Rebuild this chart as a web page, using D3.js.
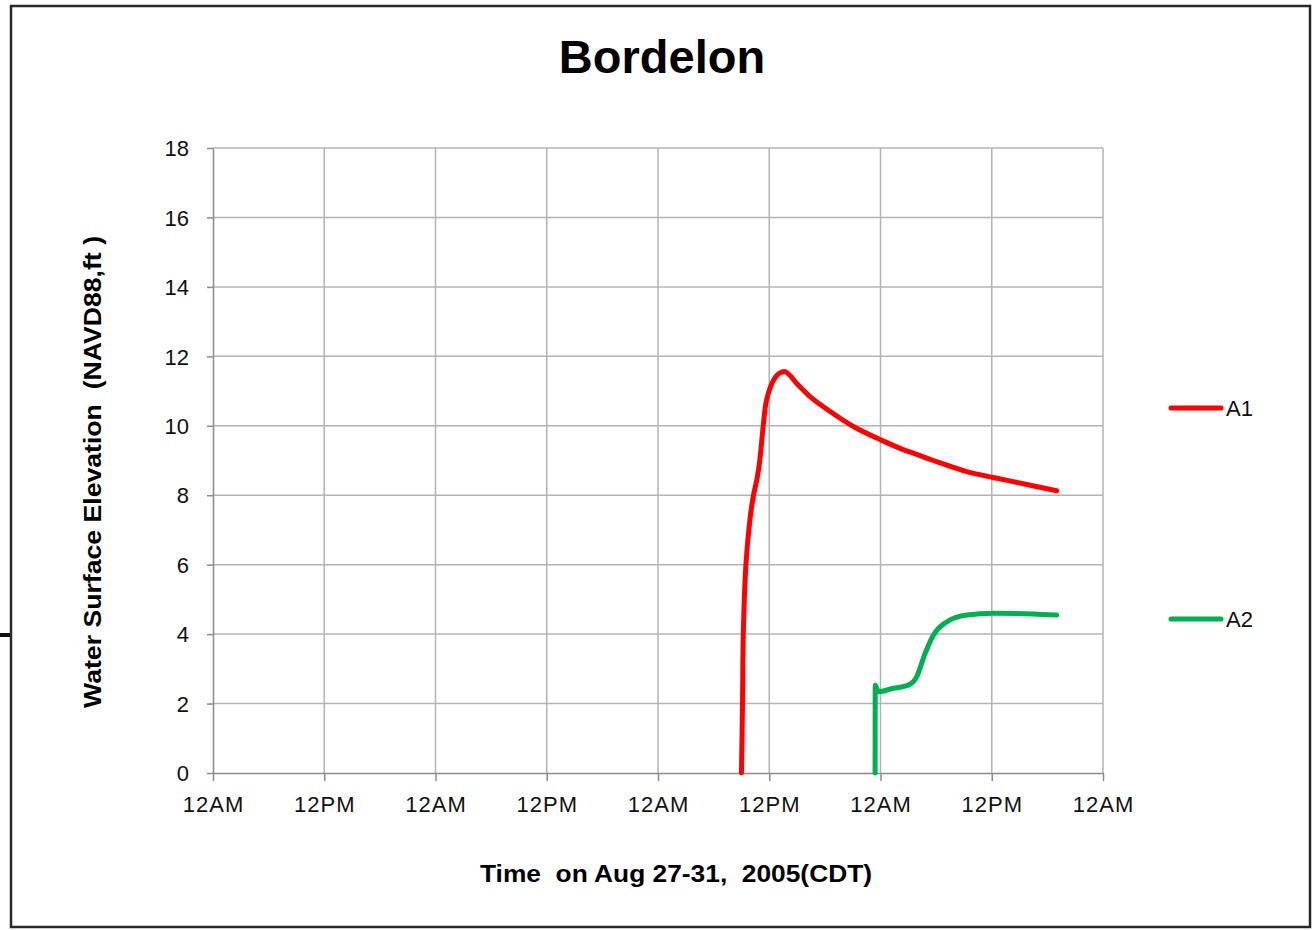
<!DOCTYPE html>
<html>
<head>
<meta charset="utf-8">
<script src="https://cdn.jsdelivr.net/npm/d3@7"></script>
<style>
  html, body { margin: 0; padding: 0; background: #fff; }
  svg { display: block; }
  text { font-family: "Liberation Sans", Arial, sans-serif; }
</style>
</head>
<body>
<svg id="chart" width="1315" height="930"></svg>
<script>
// ---- data ----
const chartTitle = "Bordelon";
const xAxisTitle = "Time  on Aug 27-31,  2005(CDT)";
const yAxisTitle = "Water Surface Elevation  (NAVD88,ft )";
const xDomain = ["2005-08-27 00:00", "2005-08-31 00:00"];
const yTicks = [0, 2, 4, 6, 8, 10, 12, 14, 16, 18];
const seriesNames = ["A1", "A2"];
const seriesColors = ["#ff0000", "#00b050"];

const a1Times = [
  "2005-08-29 09:00", "2005-08-29 09:07", "2005-08-29 09:12", "2005-08-29 09:29",
  "2005-08-29 09:55", "2005-08-29 10:18", "2005-08-29 10:42", "2005-08-29 11:00",
  "2005-08-29 11:21", "2005-08-29 11:43", "2005-08-29 12:26", "2005-08-29 13:00",
  "2005-08-29 13:42", "2005-08-29 14:20", "2005-08-29 14:58", "2005-08-29 16:24",
  "2005-08-29 18:34", "2005-08-29 21:04", "2005-08-30 00:08", "2005-08-30 02:07",
  "2005-08-30 04:16", "2005-08-30 05:42", "2005-08-30 09:18", "2005-08-30 12:10",
  "2005-08-30 15:46", "2005-08-30 19:00"
];
const a1Values = [
  0.0, 2.0, 4.0, 6.0,
  7.3, 8.0, 8.5, 9.05,
  10.0, 10.75, 11.3, 11.5,
  11.56, 11.42, 11.22, 10.84,
  10.41, 9.98, 9.58, 9.35,
  9.14, 9.0, 8.68, 8.51,
  8.31, 8.13
];

const a2Times = [
  "2005-08-29 23:25", "2005-08-29 23:26", "2005-08-29 23:46", "2005-08-30 01:23",
  "2005-08-30 03:00", "2005-08-30 03:54", "2005-08-30 04:48", "2005-08-30 05:42",
  "2005-08-30 07:08", "2005-08-30 09:18", "2005-08-30 12:10", "2005-08-30 16:29",
  "2005-08-30 19:00"
];
const a2Values = [
  0.0, 2.53, 2.34, 2.44,
  2.53, 2.77, 3.44, 3.97,
  4.35, 4.55, 4.6, 4.58,
  4.55
];

// ---- drawing ----
const parse = d3.timeParse("%Y-%m-%d %H:%M");
const svg = d3.select("#chart");

const plot = { left: 213, right: 1103, top: 148, bottom: 773 };

const x = d3.scaleTime()
  .domain(xDomain.map(parse))
  .range([plot.left, plot.right]);
const y = d3.scaleLinear()
  .domain([0, 18])
  .range([plot.bottom, plot.top]);

// outer frame
svg.append("rect")
  .attr("x", 11).attr("y", 6).attr("width", 1299).attr("height", 921)
  .attr("fill", "none").attr("stroke", "#2a2a2a").attr("stroke-width", 2.5);
// small artifact mark at left edge
svg.append("line")
  .attr("x1", 0).attr("x2", 10).attr("y1", 635).attr("y2", 635)
  .attr("stroke", "#111").attr("stroke-width", 4);

const xTickVals = x.ticks(d3.timeHour.every(12));

// grid
const grid = svg.append("g").attr("stroke", "#b4b4b4").attr("stroke-width", 1.5);
grid.selectAll("line.h").data(yTicks.filter(d => d > 0)).join("line")
  .attr("x1", plot.left).attr("x2", plot.right)
  .attr("y1", d => y(d)).attr("y2", d => y(d));
grid.selectAll("line.v").data(xTickVals.filter((d, i) => i > 0)).join("line")
  .attr("x1", d => x(d)).attr("x2", d => x(d))
  .attr("y1", plot.top).attr("y2", plot.bottom);

// y axis
const yAxis = svg.append("g")
  .attr("transform", `translate(${plot.left},0)`)
  .call(d3.axisLeft(y).tickValues(yTicks).tickSize(6).tickPadding(18).tickSizeOuter(0));
yAxis.select(".domain").attr("stroke", "#8c8c8c").attr("stroke-width", 1.5);
yAxis.selectAll(".tick line").attr("stroke", "#8c8c8c").attr("stroke-width", 1.5);
yAxis.selectAll(".tick text")
  .attr("font-family", "'Liberation Sans', Arial, sans-serif")
  .attr("font-size", 22).attr("fill", "#111").attr("dy", "0.35em");

// x axis
const xAxis = svg.append("g")
  .attr("transform", `translate(0,${plot.bottom})`)
  .call(d3.axisBottom(x).tickValues(xTickVals).tickFormat(d3.timeFormat("%I%p"))
    .tickSize(8).tickPadding(15).tickSizeOuter(0));
xAxis.select(".domain").attr("stroke", "#8c8c8c").attr("stroke-width", 1.5);
xAxis.selectAll(".tick line").attr("stroke", "#8c8c8c").attr("stroke-width", 1.5);
xAxis.selectAll(".tick text")
  .attr("font-family", "'Liberation Sans', Arial, sans-serif")
  .attr("font-size", 22).attr("fill", "#111").attr("letter-spacing", "1px");

// series
const series = [
  { name: seriesNames[0], color: seriesColors[0], curve: d3.curveCatmullRom.alpha(0.5),
    data: a1Times.map((t, i) => ({ t: parse(t), v: a1Values[i] })) },
  { name: seriesNames[1], color: seriesColors[1], curve: d3.curveMonotoneX,
    data: a2Times.map((t, i) => ({ t: parse(t), v: a2Values[i] })) }
];

svg.append("g").selectAll("path").data(series).join("path")
  .attr("d", d => d3.line().x(p => x(p.t)).y(p => y(p.v)).curve(d.curve)(d.data))
  .attr("fill", "none")
  .attr("stroke", d => d.color)
  .attr("stroke-width", 5)
  .attr("stroke-linejoin", "round")
  .attr("stroke-linecap", "round");

// legend
const legendY = [408, 619];
const legend = svg.append("g").selectAll("g").data(series).join("g")
  .attr("transform", (d, i) => `translate(1171,${legendY[i]})`);
legend.append("line")
  .attr("x1", 0).attr("x2", 50).attr("y1", 0).attr("y2", 0)
  .attr("stroke", d => d.color).attr("stroke-width", 5).attr("stroke-linecap", "round");
legend.append("text")
  .attr("x", 55).attr("y", 0).attr("dy", "0.36em")
  .attr("font-size", 22).attr("fill", "#111")
  .text(d => d.name);

// titles
svg.append("text")
  .attr("x", 662).attr("y", 73)
  .attr("text-anchor", "middle")
  .attr("font-size", 47).attr("font-weight", "bold").attr("fill", "#000")
  .text(chartTitle);

svg.append("text")
  .attr("x", 676).attr("y", 882)
  .attr("text-anchor", "middle")
  .attr("font-family", "'DejaVu Sans', Verdana, sans-serif")
  .attr("font-size", 23).attr("font-weight", "bold").attr("fill", "#000")
  .attr("textLength", 392).attr("lengthAdjust", "spacingAndGlyphs")
  .style("white-space", "pre")
  .text(xAxisTitle);

svg.append("text")
  .attr("transform", "translate(101,472) rotate(-90)")
  .attr("text-anchor", "middle")
  .attr("font-family", "'DejaVu Sans', Verdana, sans-serif")
  .attr("font-size", 23).attr("font-weight", "bold").attr("fill", "#000")
  .attr("textLength", 472).attr("lengthAdjust", "spacingAndGlyphs")
  .style("white-space", "pre")
  .text(yAxisTitle);
</script>
</body>
</html>
